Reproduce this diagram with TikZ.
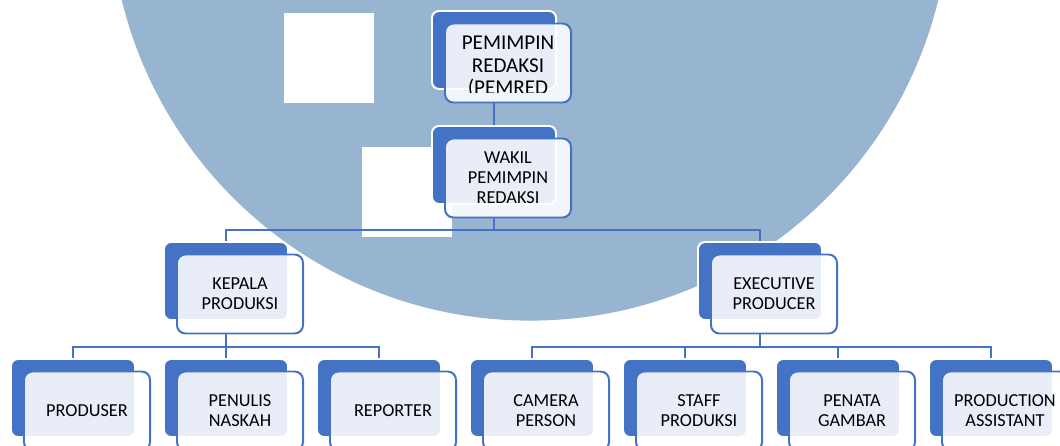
\documentclass[tikz,border=0pt]{standalone}
\usepackage{fontspec}
\setmainfont{Carlito}
\definecolor{orgblue}{RGB}{68,114,196}
\definecolor{wmblue}{RGB}{151,180,209}
\begin{document}
\begin{tikzpicture}[x=0.025cm,y=-0.025cm,
    back/.style={rectangle,rounded corners=5pt,fill=orgblue,draw=white,line
        width=1.4pt,minimum width=3.1cm,minimum height=1.95cm,inner sep=0pt},
    conn/.style={draw=orgblue,line width=1.4pt}]
    \tikzstyle{front}=[rectangle,rounded corners=6pt,fill=white,fill opacity=.88,text opacity=1,
        draw=orgblue,line width=1.4pt,minimum width=3.15cm,minimum height=1.975cm,inner sep=0pt,
        align=center,font=\fontsize{13}{14.2}\selectfont]

    \clip (0,0) rectangle (1060,446);
    \fill[wmblue] (530,-99.5) circle (10.5cm);
    \fill[white] (284,13) rectangle (374,103);
    \fill[white] (362,147) rectangle (452,237);

    \node[back] (pemimpin-b) at (494,50) {};
    \node[front] (pemimpin) at (508,63) {};
    \begin{scope}
      \clip (440,20) rectangle (580,93);
      \node[align=center,font=\fontsize{15}{16.1}\selectfont] (pemimpin-t) at (508,67) {PEMIMPIN\\REDAKSI\\(PEMRED};
    \end{scope}

    \node[back] (wakil-b) at (494,165) {};
    \node[front] (wakil) at (508,178) {WAKIL\\PEMIMPIN\\REDAKSI};

    \node[back] (kepala-b) at (226,281) {};
    \node[front] (kepala) at (240,294) {KEPALA\\PRODUKSI};
    \node[back] (exec-b) at (760,281) {};
    \node[front] (exec) at (774,294) {EXECUTIVE\\PRODUCER};

    \node[back] (produser-b) at (73,398) {};
    \node[front] (produser) at (87,411) {PRODUSER};
    \node[back] (penulis-b) at (226,398) {};
    \node[front] (penulis) at (240,411) {PENULIS\\NASKAH};
    \node[back] (reporter-b) at (379,398) {};
    \node[front] (reporter) at (393,411) {REPORTER};
    \node[back] (camera-b) at (532,398) {};
    \node[front] (camera) at (546,411) {CAMERA\\PERSON};
    \node[back] (staff-b) at (685,398) {};
    \node[front] (staff) at (699,411) {STAFF\\PRODUKSI};
    \node[back] (penata-b) at (838,398) {};
    \node[front] (penata) at (852,411) {PENATA\\GAMBAR};
    \node[back] (prodass-b) at (991,398) {};
    \node[front] (prodass) at (1005,411) {PRODUCTION\\ASSISTANT};

    \coordinate (bus1) at (494,230);
    \coordinate (bus2) at (226,347);
    \coordinate (bus3) at (760,347);

    \draw[conn] (pemimpin-b |- pemimpin.south) -- (wakil-b.north);
    \draw[conn] (wakil-b |- wakil.south) -- (bus1);
    \draw[conn] (kepala-b.north) |- (bus1) -| (exec-b.north);
    \draw[conn] (kepala-b |- kepala.south) -- (bus2);
    \draw[conn] (produser-b.north) |- (bus2) -| (reporter-b.north);
    \draw[conn] (penulis-b.north) -- (bus2);
    \draw[conn] (exec-b |- exec.south) -- (bus3);
    \draw[conn] (camera-b.north) |- (bus3) -| (prodass-b.north);
    \draw[conn] (staff-b.north) -- (staff-b.north |- bus3);
    \draw[conn] (penata-b.north) -- (penata-b.north |- bus3);

\end{tikzpicture}
\end{document}
